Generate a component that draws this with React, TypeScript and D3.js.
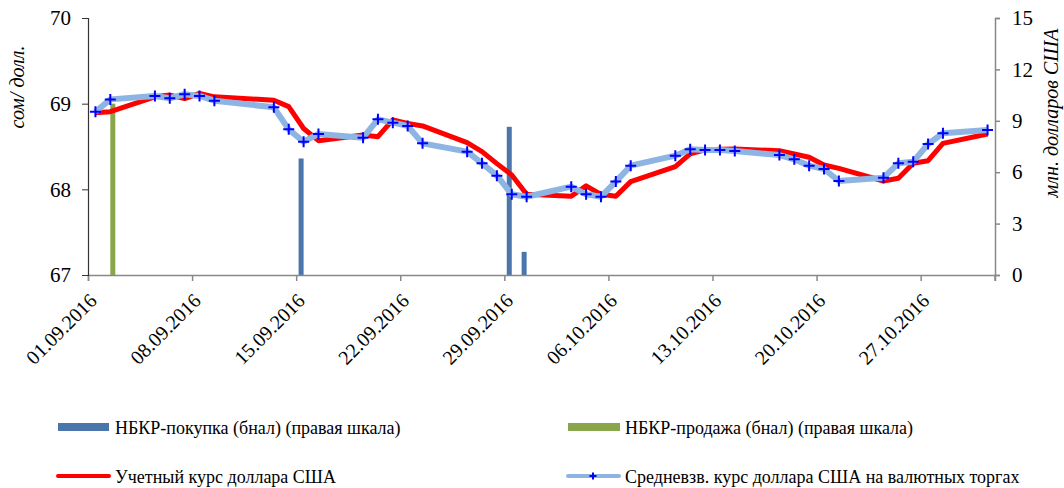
import { useEffect, useRef } from 'react';
import * as d3 from 'd3';

// даты торгов (для обеих линий)
const dates = [
  '01.09.2016', '02.09.2016', '05.09.2016', '06.09.2016', '07.09.2016', '08.09.2016', '09.09.2016',
  '13.09.2016', '14.09.2016', '15.09.2016', '16.09.2016', '19.09.2016', '20.09.2016', '21.09.2016',
  '22.09.2016', '23.09.2016', '26.09.2016', '27.09.2016', '28.09.2016', '29.09.2016', '30.09.2016',
  '03.10.2016', '04.10.2016', '05.10.2016', '06.10.2016', '07.10.2016', '10.10.2016', '11.10.2016',
  '12.10.2016', '13.10.2016', '14.10.2016', '17.10.2016', '18.10.2016', '19.10.2016', '20.10.2016',
  '21.10.2016', '24.10.2016', '25.10.2016', '26.10.2016', '27.10.2016', '28.10.2016', '31.10.2016',
];

// Средневзв. курс доллара США на валютных торгах
const avgRate = [
  68.906, 69.05, 69.09, 69.063, 69.11, 69.09, 69.035,
  68.957, 68.70, 68.556, 68.646, 68.603, 68.817, 68.778,
  68.74, 68.537, 68.44, 68.304, 68.16, 67.942, 67.914,
  68.031, 67.942, 67.914, 68.09, 68.276, 68.393, 68.467,
  68.459, 68.459, 68.448, 68.40, 68.35, 68.276, 68.237,
  68.097, 68.136, 68.304, 68.323, 68.529, 68.654, 68.693,
];

// Учетный курс доллара США
const officialRate = [
  68.895, 68.906, 69.08, 69.10, 69.06, 69.12, 69.08,
  69.04, 68.965, 68.71, 68.568, 68.634, 68.615, 68.81,
  68.77, 68.74, 68.545, 68.44, 68.30, 68.167, 67.942,
  67.92, 68.04, 67.942, 67.92, 68.09, 68.265, 68.413,
  68.46, 68.467, 68.47, 68.45, 68.413, 68.374, 68.284,
  68.245, 68.097, 68.129, 68.304, 68.334, 68.537, 68.646,
];

// интервенции НБКР, млн. долларов США
const buyDates = ['15.09.2016', '29.09.2016', '30.09.2016'];
const buyValues = [6.8, 8.65, 1.35];
const sellDates = ['02.09.2016'];
const sellValues = [10.0];

const xTickLabels = [
  '01.09.2016', '08.09.2016', '15.09.2016', '22.09.2016', '29.09.2016',
  '06.10.2016', '13.10.2016', '20.10.2016', '27.10.2016',
];
const leftTicks = [67, 68, 69, 70];
const rightTicks = [0, 3, 6, 9, 12, 15];

const FONT = '"Liberation Serif", "Times New Roman", serif';

export default function App() {
  const svgRef = useRef<SVGSVGElement>(null);

  useEffect(() => {
    if (!svgRef.current) return;
    const svg = d3.select(svgRef.current);
    svg.selectAll('*').remove();

    const width = 1064;
    const height = 488;
    svg.attr('width', width).attr('height', height);

    const parse = d3.utcParse('%d.%m.%Y');
    const mid = (s: string) => d3.utcHour.offset(parse(s)!, 12);

    const left = 88, right = 995, top = 18, bottom = 275;

    const x = d3.scaleUtc()
      .domain([parse('01.09.2016')!, parse('01.11.2016')!])
      .range([left, right]);
    const yL = d3.scaleLinear().domain([67, 70]).range([bottom, top]);
    const yR = d3.scaleLinear().domain([0, 15]).range([bottom, top]);
    const sub = d3.scaleBand().domain(['buy', 'sell']).range([-5, 5]).padding(0);

    // столбцы
    const bars = [
      ...buyDates.map((d, i) => ({ date: d, value: buyValues[i], key: 'buy', color: '#4A76AC' })),
      ...sellDates.map((d, i) => ({ date: d, value: sellValues[i], key: 'sell', color: '#8AA64D' })),
    ];
    svg.append('g').selectAll('rect')
      .data(bars)
      .enter()
      .append('rect')
      .attr('x', d => x(mid(d.date)) + (sub(d.key) || 0))
      .attr('y', d => yR(d.value))
      .attr('width', sub.bandwidth())
      .attr('height', d => yR(0) - yR(d.value))
      .attr('fill', d => d.color);

    // оси
    const xAxis = svg.append('g')
      .attr('transform', `translate(0,${bottom})`)
      .call(d3.axisBottom(x).tickValues(xTickLabels.map(s => parse(s)!)).tickSize(6).tickFormat(() => ''));
    xAxis.select('.domain').attr('stroke', '#888').attr('stroke-width', 1.5);
    xAxis.selectAll('.tick line').attr('stroke', '#888').attr('stroke-width', 1.5);
    // конец оси у правой шкалы
    xAxis.append('line').attr('x1', right).attr('x2', right).attr('y1', 0).attr('y2', 6)
      .attr('stroke', '#888').attr('stroke-width', 1.5);

    xTickLabels.forEach(s => {
      svg.append('text')
        .attr('transform', `translate(${x(parse(s)!) + 10},${bottom + 27}) rotate(-45)`)
        .attr('text-anchor', 'end')
        .attr('font-family', FONT)
        .attr('font-size', '20px')
        .attr('fill', '#000')
        .text(s);
    });

    const lAxis = svg.append('g')
      .attr('transform', `translate(${left},0)`)
      .call(d3.axisLeft(yL).tickValues(leftTicks).tickSize(6).tickPadding(11).tickFormat(d3.format('d')));
    lAxis.select('.domain').attr('stroke', '#333').attr('stroke-width', 1.2);
    lAxis.selectAll('.tick line').attr('stroke', '#333');
    lAxis.selectAll('text').attr('font-family', FONT).attr('font-size', '21px').attr('fill', '#000');

    const rAxis = svg.append('g')
      .attr('transform', `translate(${right},0)`)
      .call(d3.axisRight(yR).tickValues(rightTicks).tickSize(5).tickPadding(12));
    rAxis.select('.domain').attr('stroke', '#888').attr('stroke-width', 1.5);
    rAxis.selectAll('.tick line').attr('stroke', '#888').attr('stroke-width', 1.5);
    rAxis.selectAll('text').attr('font-family', FONT).attr('font-size', '21px').attr('fill', '#000');

    // подписи осей
    svg.append('text')
      .attr('transform', `translate(24,87) rotate(-90)`)
      .attr('text-anchor', 'middle')
      .attr('font-family', FONT)
      .attr('font-style', 'italic')
      .attr('font-size', '20px')
      .text('сом/ долл.');
    svg.append('text')
      .attr('transform', `translate(1058,113) rotate(-90)`)
      .attr('text-anchor', 'middle')
      .attr('font-family', FONT)
      .attr('font-style', 'italic')
      .attr('font-size', '20px')
      .text('млн. долларов США');

    // линии
    const line = d3.line<number>()
      .x((_, i) => x(mid(dates[i])))
      .y(d => yL(d));

    svg.append('path')
      .datum(officialRate)
      .attr('d', line)
      .attr('fill', 'none')
      .attr('stroke', '#FF0000')
      .attr('stroke-width', 5)
      .attr('stroke-linejoin', 'round');

    svg.append('path')
      .datum(avgRate)
      .attr('d', line)
      .attr('fill', 'none')
      .attr('stroke', '#8EB4E3')
      .attr('stroke-width', 6)
      .attr('stroke-linejoin', 'round');

    const plus = (cx: number, cy: number, r: number) =>
      `M${cx - r},${cy}H${cx + r}M${cx},${cy - r}V${cy + r}`;

    svg.append('g').selectAll('path')
      .data(avgRate)
      .enter()
      .append('path')
      .attr('d', (d, i) => plus(x(mid(dates[i])), yL(d), 5.5))
      .attr('stroke', '#0000FF')
      .attr('stroke-width', 2)
      .attr('fill', 'none');

    // легенда
    const lg = svg.append('g').attr('font-family', FONT).attr('font-size', '18px');
    const legendText = (tx: number, ty: number, s: string) =>
      lg.append('text').attr('x', tx).attr('y', ty).attr('fill', '#000').text(s);

    lg.append('rect').attr('x', 58).attr('y', 423).attr('width', 51).attr('height', 8).attr('fill', '#4A76AC');
    legendText(115, 434, 'НБКР-покупка (бнал) (правая шкала)');

    lg.append('rect').attr('x', 568).attr('y', 423).attr('width', 52).attr('height', 8).attr('fill', '#8AA64D');
    legendText(625, 434, 'НБКР-продажа (бнал) (правая шкала)');

    lg.append('line').attr('x1', 58).attr('x2', 109).attr('y1', 476).attr('y2', 476)
      .attr('stroke', '#FF0000').attr('stroke-width', 4).attr('stroke-linecap', 'round');
    legendText(115, 483, 'Учетный курс доллара США');

    lg.append('line').attr('x1', 568).attr('x2', 619).attr('y1', 476).attr('y2', 476)
      .attr('stroke', '#8EB4E3').attr('stroke-width', 4).attr('stroke-linecap', 'round');
    lg.append('path').attr('d', plus(593, 476, 3.5)).attr('stroke', '#0000FF').attr('stroke-width', 2);
    legendText(625, 483, 'Средневзв. курс доллара США на валютных торгах');
  }, []);

  return (
    <div style={{ position: 'absolute', left: 0, top: 0, background: 'white' }}>
      <svg ref={svgRef} style={{ display: 'block' }}></svg>
    </div>
  );
}
